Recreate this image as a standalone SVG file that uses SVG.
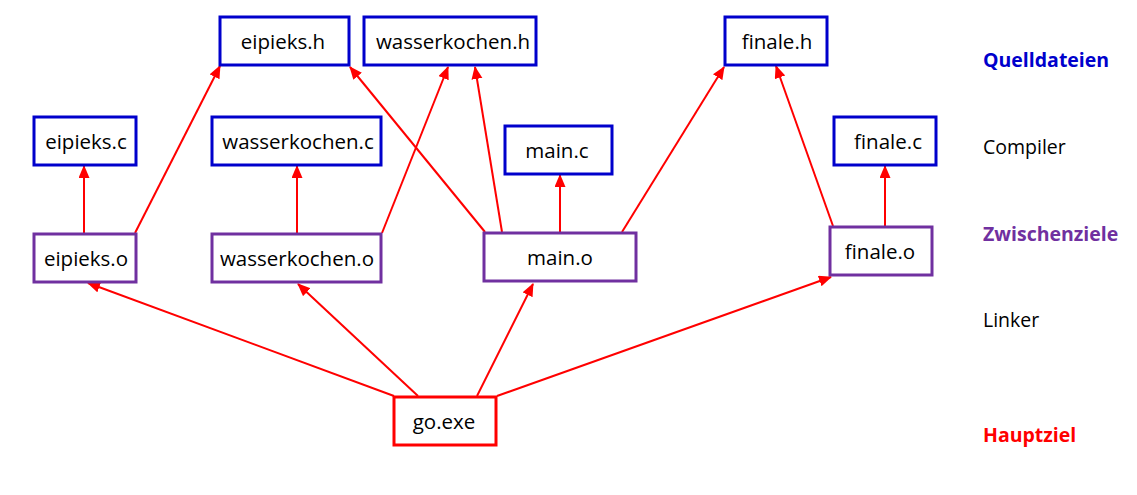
<svg xmlns="http://www.w3.org/2000/svg" width="1137" height="495" viewBox="0 0 1137 495">
<style>
.box{fill:#fff;stroke-width:3}
.src{stroke:#0000CC}
.obj{stroke:#7030A0}
.exe{stroke:#FF0000}
.t{font-family:"Open Sans","Noto Sans",sans-serif;font-size:20.5px;fill:#000;text-anchor:middle}
.lbl{font-family:"Open Sans","Noto Sans",sans-serif;font-size:19.5px}
.b{font-weight:bold}
.edge{stroke:#FF0000;stroke-width:2;fill:none;marker-end:url(#arr)}
</style>
<defs>
<marker id="arr" markerUnits="userSpaceOnUse" markerWidth="14" markerHeight="12" refX="12" refY="5.5" orient="auto">
<path d="M0,0 L13,5.5 L0,11 z" fill="#FF0000"/>
</marker>
</defs>
<rect width="1137" height="495" fill="#fff"/>
<g id="connectors">
<line class="edge" x1="84" y1="233" x2="84" y2="166"/>
<line class="edge" x1="135" y1="233" x2="220" y2="66"/>
<line class="edge" x1="297" y1="233" x2="297" y2="166"/>
<line class="edge" x1="382" y1="233" x2="448" y2="67"/>
<line class="edge" x1="485" y1="232" x2="350" y2="67"/>
<line class="edge" x1="502" y1="232" x2="475" y2="67"/>
<line class="edge" x1="560" y1="232" x2="560" y2="175"/>
<line class="edge" x1="622" y1="232" x2="724" y2="67"/>
<line class="edge" x1="833" y1="226" x2="776" y2="66"/>
<line class="edge" x1="885" y1="226" x2="885" y2="166"/>
<line class="edge" x1="394" y1="396" x2="88" y2="283"/>
<line class="edge" x1="418" y1="396" x2="298" y2="284"/>
<line class="edge" x1="477" y1="396" x2="533" y2="284"/>
<line class="edge" x1="497" y1="396" x2="831" y2="277"/>
</g>
<g id="eipieks_h"><rect class="box src" x="220" y="17" width="129" height="48"/><text class="t" x="283" y="49">eipieks.h</text></g>
<g id="wasserkochen_h"><rect class="box src" x="364" y="17" width="172" height="48"/><text class="t" x="453" y="49">wasserkochen.h</text></g>
<g id="finale_h"><rect class="box src" x="725" y="17" width="102" height="48"/><text class="t" x="777" y="49">finale.h</text></g>
<g id="eipieks_c"><rect class="box src" x="34" y="117" width="102" height="48"/><text class="t" x="86" y="149">eipieks.c</text></g>
<g id="wasserkochen_c"><rect class="box src" x="212" y="117" width="169" height="48"/><text class="t" x="298" y="149">wasserkochen.c</text></g>
<g id="main_c"><rect class="box src" x="505" y="126" width="107" height="48"/><text class="t" x="557" y="158">main.c</text></g>
<g id="finale_c"><rect class="box src" x="834" y="117" width="102" height="48"/><text class="t" x="888" y="149">finale.c</text></g>
<g id="eipieks_o"><rect class="box obj" x="34" y="234" width="102" height="48"/><text class="t" x="86" y="266">eipieks.o</text></g>
<g id="wasserkochen_o"><rect class="box obj" x="212" y="234" width="169" height="48"/><text class="t" x="297" y="266">wasserkochen.o</text></g>
<g id="main_o"><rect class="box obj" x="484" y="233" width="152" height="48"/><text class="t" x="560" y="265">main.o</text></g>
<g id="finale_o"><rect class="box obj" x="830" y="227" width="102" height="48"/><text class="t" x="880" y="259">finale.o</text></g>
<g id="go_exe"><rect class="box exe" x="394" y="397" width="102" height="48"/><text class="t" x="444" y="429">go.exe</text></g>
<g id="labels">
<text class="lbl b" x="983" y="67" fill="#0000CC">Quelldateien</text>
<text class="lbl" x="983" y="154" fill="#000">Compiler</text>
<text class="lbl b" x="983" y="241" fill="#7030A0">Zwischenziele</text>
<text class="lbl" x="983" y="327" fill="#000">Linker</text>
<text class="lbl b" x="983" y="442" fill="#FF0000">Hauptziel</text>
</g>
</svg>
